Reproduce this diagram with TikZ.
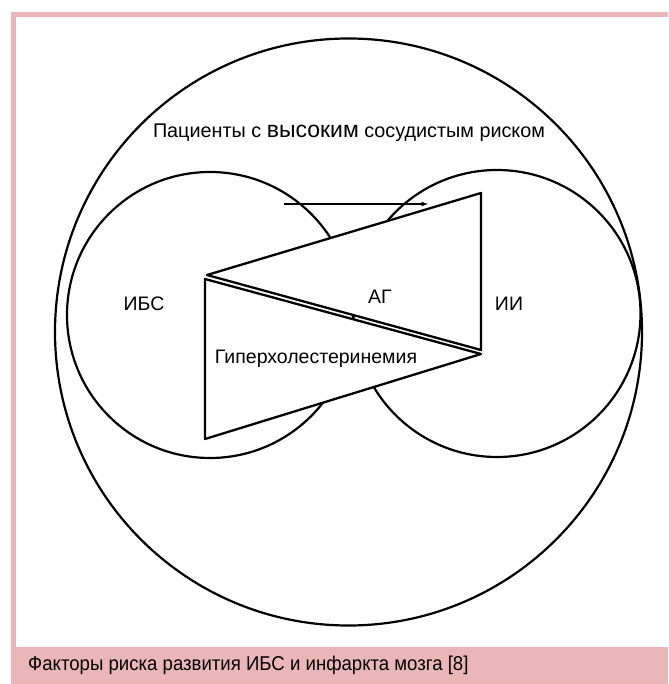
\documentclass[tikz,border=0pt]{standalone}
\usepackage{xcolor}
\usepackage{fontspec}
\setmainfont{Liberation Sans}
\newfontfamily\capfont[FakeStretch=0.93]{Liberation Sans}
\usepackage{tikz}
\usetikzlibrary{arrows, positioning}
\definecolor{framepink}{RGB}{234,182,184}
\tikzstyle{ring} = [circle, draw=black, line width=2.2pt, inner sep=0pt]
\tikzstyle{wedge} = [draw=black, line width=2.3pt, fill=white, line join=round]
\tikzstyle{term} = [inner sep=0pt, font=\fontsize{19.5}{22}\selectfont]
\tikzstyle{arrow} = [line width=1.2pt,->,>=latex]

\begin{document}
\begin{tikzpicture}[x=1pt, y=-1pt]
\useasboundingbox (0,0) rectangle (668,684);

% frame and caption bar
\fill[framepink] (11,12) rectangle (668,684);
\fill[white] (16,17) rectangle (668,647);

% circles
\node (patients) [ring, minimum size=587pt] at (348.5,332) {};
\node (ihd) [ring, minimum size=286pt] at (210,315) {};
\node (stroke) [ring, minimum size=287pt] at (497,313.5) {};

% triangles
\coordinate (agleft) at (207,275);
\coordinate (agtop) at (481,193);
\coordinate (agbottom) at (481,350);
\coordinate (hctop) at (205,279);
\coordinate (hcright) at (481,354);
\coordinate (hcbottom) at (205,439);
\draw [wedge] (hctop) -- (hcright) -- (hcbottom) -- cycle;
\draw [wedge] (agleft) -- (agtop) -- (agbottom) -- cycle;

% arrow
\coordinate (from) at (284,204);
\coordinate (to) at (428,204);
\draw [arrow] (from) -- (to);

% labels
\node (risk) [term, font=\fontsize{19.8}{22}\selectfont] at (349,133) {Пациенты с {\fontsize{23}{24}\selectfont высоким} сосудистым риском};
\node (ibs) [term] at (144,304) {ИБС};
\node (ag) [term] at (380,297) {АГ};
\node (ii) [term] at (509,304) {ИИ};
\node (hyper) [term] at (316,359) {Гиперхолестеринемия};
\node (caption) [anchor=west, inner sep=0pt, font=\capfont\fontsize{20}{22}\selectfont] at (28,665) {Факторы риска развития ИБС и инфаркта мозга [8]};

\end{tikzpicture}
\end{document}
